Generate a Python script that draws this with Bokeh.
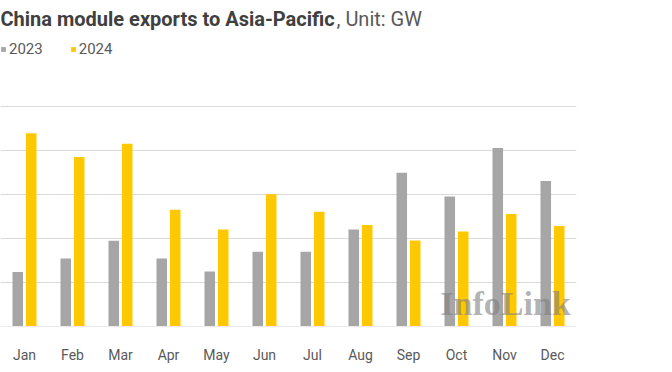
from bokeh.plotting import figure
from bokeh.models import ColumnDataSource, Range1d, FixedTicker, Label, Legend, LegendItem
from bokeh.transform import dodge
from bokeh.embed import file_html
from bokeh.resources import INLINE

months = ["Jan", "Feb", "Mar", "Apr", "May", "Jun", "Jul", "Aug", "Sep", "Oct", "Nov", "Dec"]
exports_2023 = [1.23, 1.54, 1.94, 1.54, 1.24, 1.69, 1.69, 2.20, 3.49, 2.95, 4.05, 3.30]
exports_2024 = [4.39, 3.85, 4.15, 2.65, 2.20, 3.00, 2.60, 2.30, 1.95, 2.15, 2.55, 2.28]
grid_values = [0, 1, 2, 3, 4, 5]

idx = list(range(len(months)))
src = ColumnDataSource(dict(idx=idx, month=months, y2023=exports_2023, y2024=exports_2024))

GRAY = "#A6A6A6"
YELLOW = "#FFC800"
TEXT = "#595959"
FONT = "Roboto"

# frame spans from the top of the canvas down to the baseline, so that the
# title / legend annotations (which are clipped to the frame) stay visible
p = figure(width=672, height=372, output_backend="svg", toolbar_location=None,
           x_range=Range1d(-0.5, 11.5), y_range=Range1d(-0.01, 7.41),
           min_border_left=0, min_border_right=96, min_border_top=0, min_border_bottom=46)
p.outline_line_color = None
p.background_fill_color = "white"

r1 = p.vbar(x=dodge('idx', -0.14, range=p.x_range), top='y2023', width=0.22, source=src,
            fill_color=GRAY, line_color=None)
r2 = p.vbar(x=dodge('idx', 0.14, range=p.x_range), top='y2024', width=0.22, source=src,
            fill_color=YELLOW, line_color=None)

p.yaxis.visible = False
p.ygrid.ticker = FixedTicker(ticks=grid_values)
p.ygrid.grid_line_color = "#D9D9D9"
p.ygrid.grid_line_width = 1
p.xgrid.visible = False

xa = p.xaxis[0]
xa.ticker = FixedTicker(ticks=idx)
xa.major_label_overrides = {i: m for i, m in zip(idx, months)}
xa.axis_line_color = None
xa.major_tick_line_color = None
xa.minor_tick_line_color = None
xa.major_label_text_font = FONT
xa.major_label_text_font_size = "14px"
xa.major_label_text_color = TEXT
xa.major_label_standoff = 14

# title
t1 = Label(x=0, y=308, x_units="screen", y_units="screen",
           text="China module exports to Asia-Pacific", text_font=FONT,
           text_font_style="bold", text_font_size="20px", text_color="#404040",
           text_baseline="middle")
p.add_layout(t1)
t2 = Label(x=336, y=308, x_units="screen", y_units="screen",
           text=", Unit: GW", text_font=FONT,
           text_font_size="20px", text_color=TEXT, text_baseline="middle")
p.add_layout(t2)

# watermark
wm = Label(x=505, y=23, x_units="screen", y_units="screen", text="InfoLink",
           text_font="Liberation Serif", text_font_style="bold", text_font_size="34px",
           text_color="#7F7F7F", text_alpha=0.6, text_align="center", text_baseline="middle")
p.add_layout(wm)

legend = Legend(items=[LegendItem(label="2023", renderers=[r1]),
                       LegendItem(label="2024", renderers=[r2])],
                orientation="horizontal", location=(0, 268),
                glyph_width=6, glyph_height=6, label_standoff=3, spacing=27,
                padding=0, margin=0, border_line_color=None, background_fill_alpha=0,
                label_text_font=FONT, label_text_font_size="15px", label_text_color=TEXT)
p.add_layout(legend)

open("out.html", "w").write(file_html(p, INLINE))
